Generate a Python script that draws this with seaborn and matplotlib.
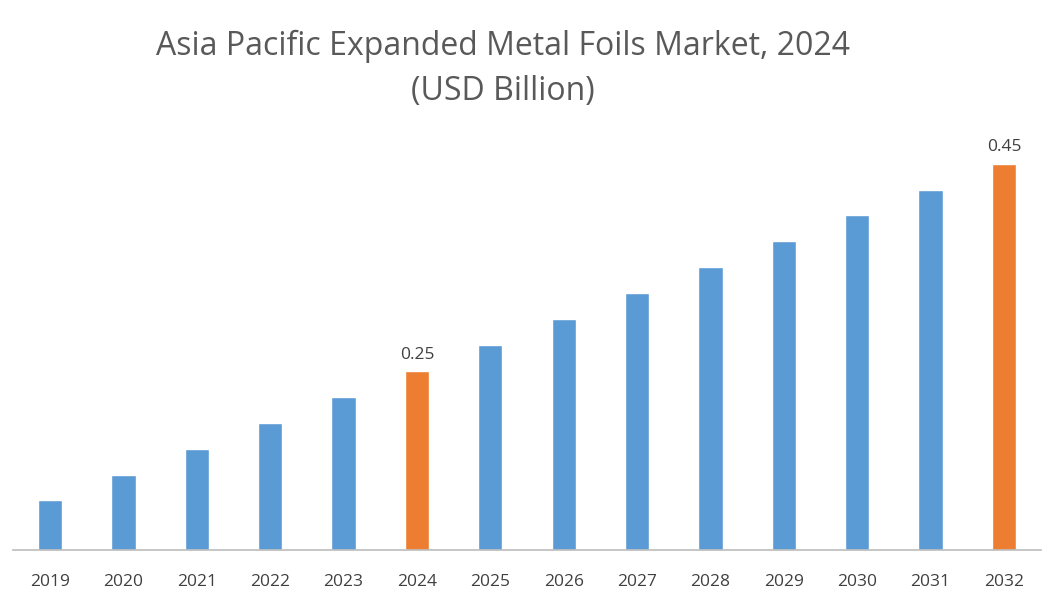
import matplotlib
matplotlib.use("Agg")
import matplotlib.pyplot as plt
import seaborn as sns
import pandas as pd

years = ["2019","2020","2021","2022","2023","2024","2025","2026","2027","2028","2029","2030","2031","2032"]
values = [0.125,0.150,0.175,0.200,0.225,0.25,0.275,0.30,0.325,0.35,0.375,0.40,0.425,0.45]
labels = {"2024": "0.25", "2032": "0.45"}
highlight = ["2024", "2032"]

sns.set_theme(style="white")
plt.rcParams['font.family'] = ['Open Sans', 'DejaVu Sans']

df = pd.DataFrame({"year": years, "value": values})
palette = {y: ("#ED7D31" if y in highlight else "#5B9BD5") for y in years}

fig = plt.figure(figsize=(10.58, 6.0), dpi=100)
ax = fig.add_axes([0.0126, 0.083, 0.971, 0.684])
sns.barplot(data=df, x="year", y="value", hue="year", palette=palette, legend=False,
            width=0.33, ax=ax, saturation=1)
ax.set_ylim(0.077, 0.473)
ax.set_xlim(-0.5, len(years) - 0.5)
for i, y in enumerate(years):
    if y in labels:
        ax.text(i, values[i] + 0.008, labels[y], ha="center", va="bottom", fontsize=12.5, color="#404040")
ax.set_yticks([])
ax.set_xlabel("")
ax.set_ylabel("")
for s in ["top", "right", "left"]:
    ax.spines[s].set_visible(False)
ax.spines["bottom"].set_color("#BFBFBF")
ax.tick_params(axis="x", labelsize=12.5, colors="#404040", length=0, pad=17)
fig.text(0.475, 0.885, "Asia Pacific Expanded Metal Foils Market, 2024\n(USD Billion)",
         ha="center", va="center", fontsize=23, color="#595959", linespacing=1.45)
fig.savefig("out.png", dpi=100)
